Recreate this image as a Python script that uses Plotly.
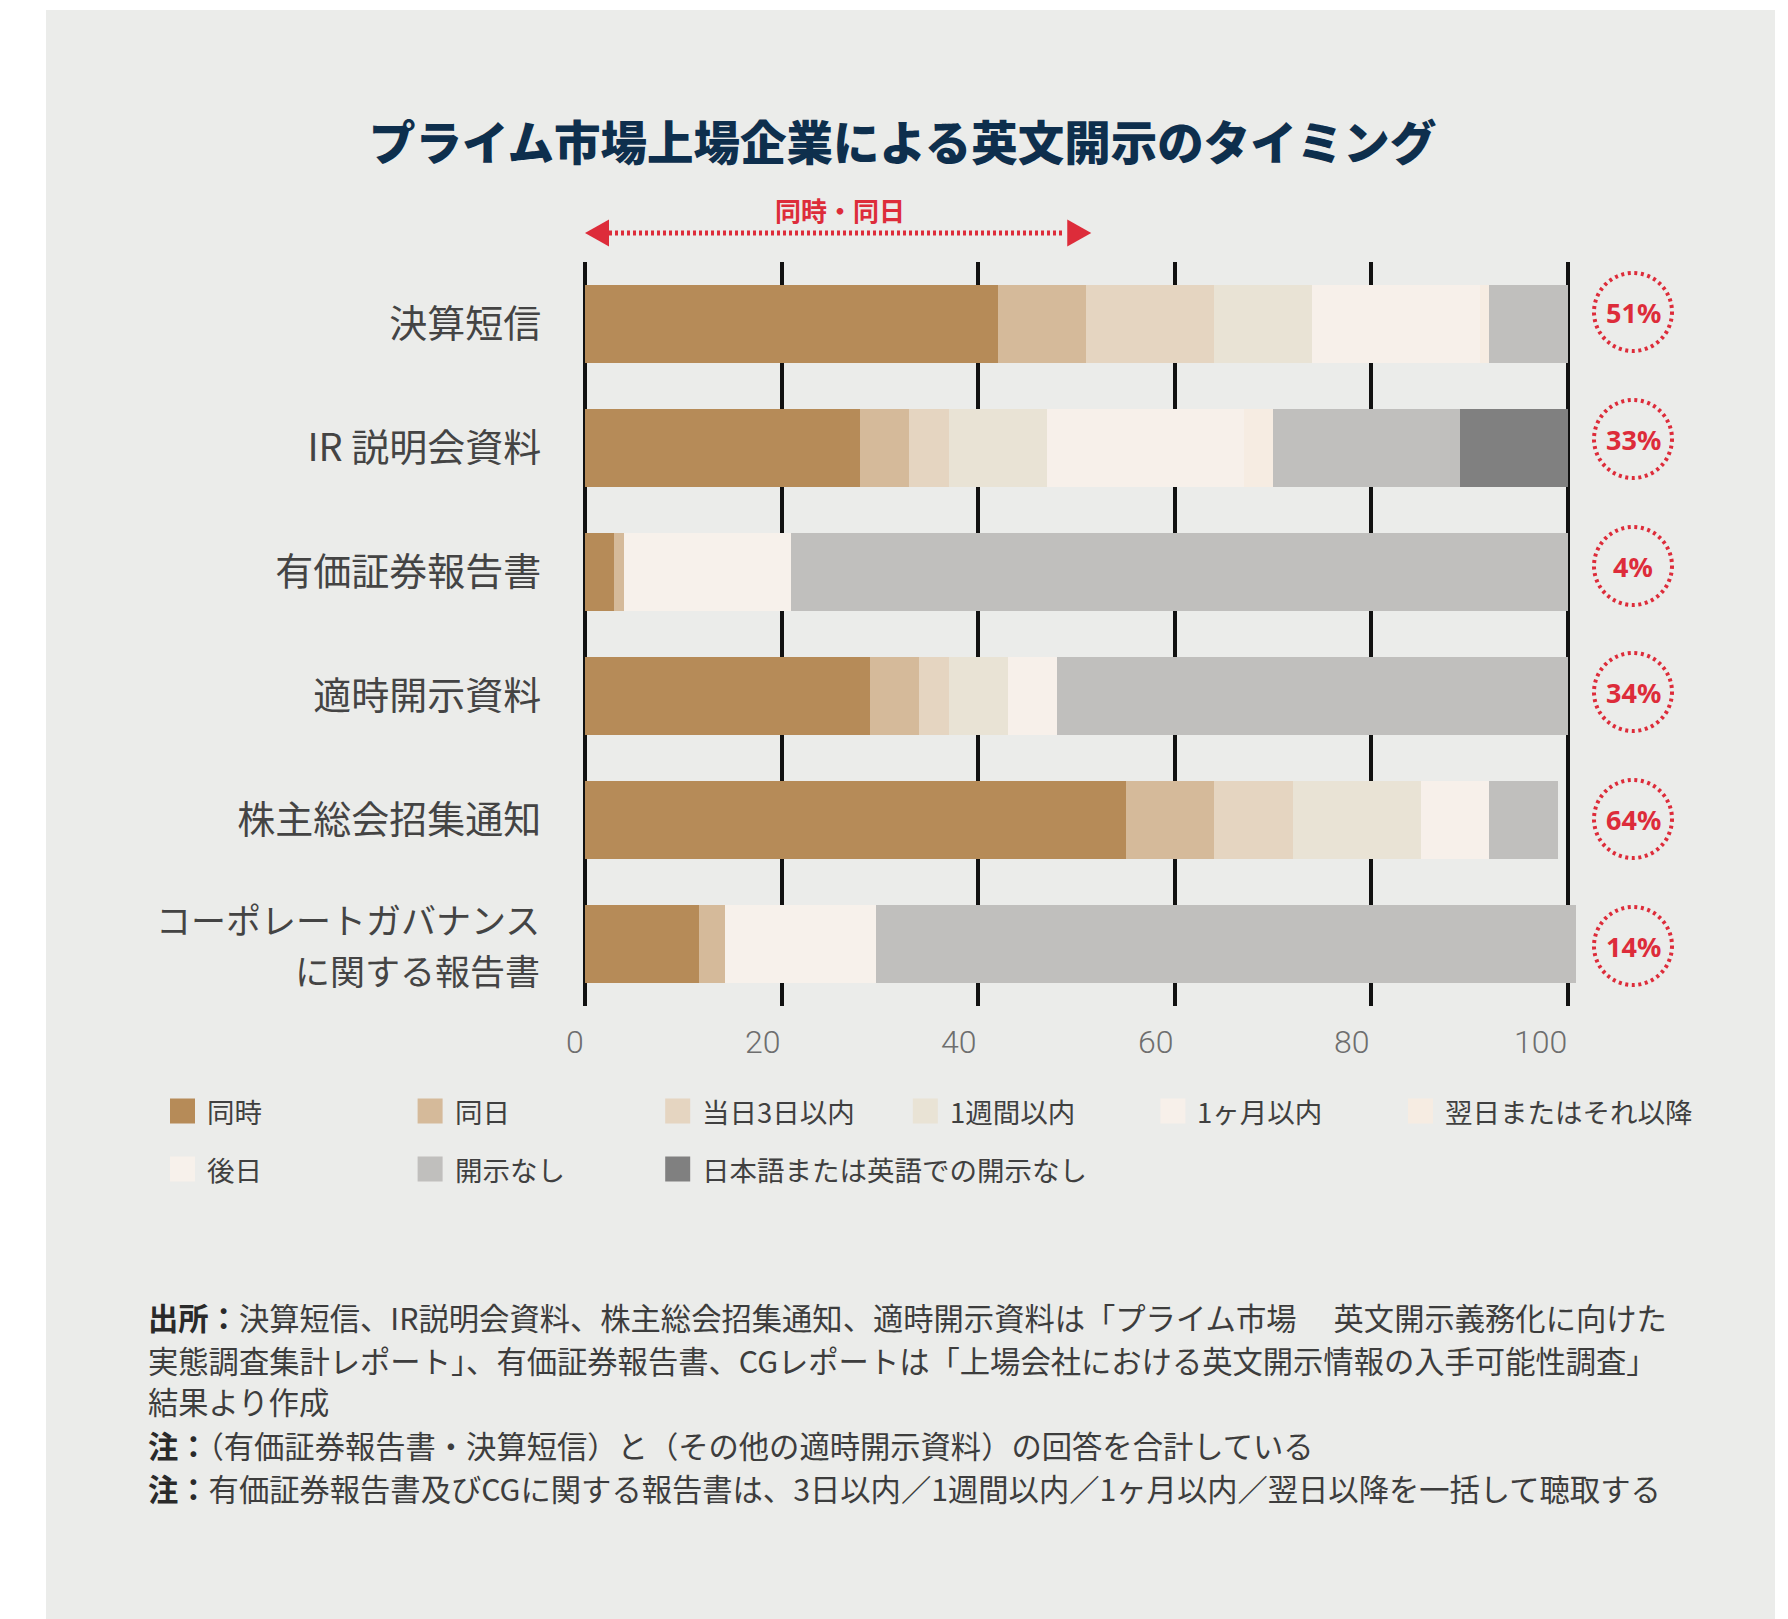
import plotly.graph_objects as go

# ---- data -----------------------------------------------------------------
categories = [
    "決算短信",
    "IR 説明会資料",
    "有価証券報告書",
    "適時開示資料",
    "株主総会招集通知",
    "コーポレートガバナンスに関する報告書",
]
# the long last category is set on two lines
long_label_lines = ["コーポレートガバナンス", "に関する報告書"]

series_names = [
    "同時", "同日", "当日3日以内", "1週間以内", "1ヶ月以内",
    "翌日またはそれ以降", "後日", "開示なし", "日本語または英語での開示なし",
]

simultaneous = [42, 28, 3, 29, 55, 11.6]      # 同時
same_day = [9, 5, 1, 5, 9, 2.6]               # 同日
within_3_days = [13, 4, 0, 3, 8, 0]           # 当日3日以内
within_1_week = [10, 10, 0, 6, 13, 0]         # 1週間以内
within_1_month = [17, 20, 0, 5, 7, 0]         # 1ヶ月以内
next_day_or_later = [1, 3, 0, 0, 0, 0]        # 翌日またはそれ以降
later = [0, 0, 17, 0, 0, 15.4]                # 後日
not_disclosed = [8, 19, 79, 52, 7, 71.2]      # 開示なし
no_disclosure_either = [0, 11, 0, 0, 0, 0]    # 日本語または英語での開示なし

series_values = [
    simultaneous, same_day, within_3_days, within_1_week, within_1_month,
    next_day_or_later, later, not_disclosed, no_disclosure_either,
]

x_ticks = [0, 20, 40, 60, 80, 100]

# ---- styling --------------------------------------------------------------
W, H = 1788, 1619
colors = ["#B68B58", "#D5BA9A", "#E5D5C1", "#E9E3D5", "#F7F0EA",
          "#F6ECE2", "#F7F1EB", "#C0BFBD", "#808080"]
BG = "#EBECEA"
RED = "#DD2C3A"
JP = "Noto Sans CJK JP"
LABEL_GREY = "#444444"

# pixel geometry of the plotting area
PX0, PX100 = 585.0, 1568.0                 # x=0 and x=100 in pixels
UNIT = (PX100 - PX0) / 100.0
XR = (-1, 112)
dom_x = [(PX0 + XR[0] * UNIT) / W, (PX0 + XR[1] * UNIT) / W]
TOP, BOTTOM = 262.0, 1006.0
dom_y = [1 - BOTTOM / H, 1 - TOP / H]


def py(px):
    """pixel row from the top -> paper y"""
    return 1 - px / H


fig = go.Figure()
for name, vals, col in zip(series_names, series_values, colors):
    fig.add_trace(go.Bar(
        x=vals, y=categories, name=name, orientation="h",
        marker=dict(color=col, line=dict(width=0)),
        showlegend=False, hoverinfo="x+name",
    ))

shapes = []
annotations = []

# grey card behind the chart
shapes.append(dict(type="rect", xref="paper", yref="paper",
                   x0=46 / W, x1=1775 / W, y0=0, y1=py(10),
                   fillcolor=BG, line=dict(width=0), layer="below"))

# title
annotations.append(dict(
    text="プライム市場上場企業による英文開示のタイミング",
    xref="paper", yref="paper", x=903 / W, y=py(140),
    xanchor="center", yanchor="middle", showarrow=False,
    font=dict(family=JP, size=46.5, color="#0E2F4D", weight=900)))

# "同時・同日" span arrow, reaching the top row's 同時+同日 share
span_end = simultaneous[0] + same_day[0]
arrow_y = py(233)
head_len = 24 / UNIT
head_h = 13.5 / H
shapes.append(dict(type="line", xref="x", yref="paper",
                   x0=head_len, x1=span_end - head_len, y0=arrow_y, y1=arrow_y,
                   line=dict(color=RED, width=5, dash="3px,3px")))
shapes.append(dict(type="path", xref="x", yref="paper",
                   path=f"M 0,{arrow_y} L {head_len},{arrow_y + head_h} "
                        f"L {head_len},{arrow_y - head_h} Z",
                   fillcolor=RED, line=dict(width=0)))
shapes.append(dict(type="path", xref="x", yref="paper",
                   path=f"M {span_end + 0.5},{arrow_y} "
                        f"L {span_end + 0.5 - head_len},{arrow_y + head_h} "
                        f"L {span_end + 0.5 - head_len},{arrow_y - head_h} Z",
                   fillcolor=RED, line=dict(width=0)))
annotations.append(dict(
    text="<b>同時・同日</b>", xref="x", yref="paper",
    x=span_end / 2 + 0.4, y=py(209), xanchor="center", yanchor="middle",
    showarrow=False, font=dict(family=JP, size=26, color=RED)))

# x tick labels, right-aligned to their grid lines
for t in x_ticks:
    annotations.append(dict(
        text=str(t), xref="x", yref="paper", x=t, y=py(1042),
        xanchor="right", yanchor="middle", showarrow=False, xshift=1,
        font=dict(family="Roboto", size=32, color="#6E6E6E", weight=300)))

# two-line label of the last category, right-aligned like the tick labels
LABEL_RIGHT = 542
for k, line in enumerate(long_label_lines):
    annotations.append(dict(
        text=line, xref="paper", yref="y", x=LABEL_RIGHT / W,
        y=len(categories) - 1, yshift=26 if k == 0 else -25,
        xanchor="right", yanchor="middle", showarrow=False,
        font=dict(family=JP, size=35, color=LABEL_GREY)))

tick_text = categories[:-1] + [""]

# dotted circles with the 同時+同日 share
circle_x = (1633 - PX0) / UNIT
circle_shift = [12, 9, 6, 4, 1, -2]
R = 39
for i, cat in enumerate(categories):
    share = round(simultaneous[i] + same_day[i])
    shapes.append(dict(type="circle", xref="x", yref="y",
                       xsizemode="pixel", ysizemode="pixel",
                       xanchor=circle_x, yanchor=i,
                       x0=-R, x1=R,
                       y0=circle_shift[i] - R, y1=circle_shift[i] + R,
                       line=dict(color=RED, width=4, dash="3px,3.6px")))
    annotations.append(dict(
        text=f"<b>{share}%</b>", xref="x", yref="y", x=circle_x, y=i,
        yshift=circle_shift[i], xanchor="center", yanchor="middle",
        showarrow=False, font=dict(family="Noto Sans", size=27, color=RED)))

# legend: swatches + labels in a 6-column grid
leg_x0, leg_dx = 170, 247.6
leg_rows = [1111, 1169]
SW = 25
for i, (name, col) in enumerate(zip(series_names, colors)):
    r, c = divmod(i, 6)
    lx = leg_x0 + c * leg_dx
    ly = leg_rows[r]
    shapes.append(dict(type="rect", xref="paper", yref="paper",
                       x0=lx / W, x1=(lx + SW) / W,
                       y0=py(ly + SW / 2), y1=py(ly - SW / 2),
                       fillcolor=col, line=dict(width=0)))
    annotations.append(dict(
        text=name, xref="paper", yref="paper", x=(lx + 35) / W, y=py(ly),
        xanchor="left", yanchor="middle", showarrow=False,
        font=dict(family=JP, size=27.5, color="#404040")))

# source and notes
notes = [
    ("出所：", "決算短信、IR説明会資料、株主総会招集通知、適時開示資料は「プライム市場　 英文開示義務化に向けた"),
    ("", "実態調査集計レポート」、有価証券報告書、CGレポートは「上場会社における英文開示情報の入手可能性調査」"),
    ("", "結果より作成"),
    ("注：", "（有価証券報告書・決算短信）と（その他の適時開示資料）の回答を合計している"),
    ("注：", "有価証券報告書及びCGに関する報告書は、3日以内／1週間以内／1ヶ月以内／翌日以降を一括して聴取する"),
]
note_rows = [1317, 1360, 1401, 1445, 1488]
for (head, body), ny in zip(notes, note_rows):
    txt = (f"<b><span style='color:#2A2A2A'>{head}</span></b>" if head else "") + body
    annotations.append(dict(
        text=txt, xref="paper", yref="paper", x=146 / W, y=py(ny),
        xanchor="left", yanchor="middle", showarrow=False,
        font=dict(family=JP, size=30.3, color="#3D3D3D")))

fig.update_layout(
    width=W, height=H,
    margin=dict(l=0, r=0, t=0, b=0),
    paper_bgcolor="white", plot_bgcolor="rgba(0,0,0,0)",
    barmode="stack", bargap=0.363,
    shapes=shapes, annotations=annotations,
    xaxis=dict(domain=dom_x, range=list(XR), tickvals=x_ticks,
               showticklabels=False, showgrid=True, gridcolor="#111111",
               gridwidth=3.5, zeroline=False, showline=False, fixedrange=True),
    yaxis=dict(domain=dom_y, type="category", categoryorder="array",
               categoryarray=categories, range=[5.5, -0.5],
               tickmode="array", tickvals=categories, ticktext=tick_text,
               showgrid=False, zeroline=False, showline=False, ticks="",
               ticklabelstandoff=33,
               tickfont=dict(family=JP, size=38, color=LABEL_GREY),
               fixedrange=True),
    showlegend=False,
)

fig.write_html("out.html")
